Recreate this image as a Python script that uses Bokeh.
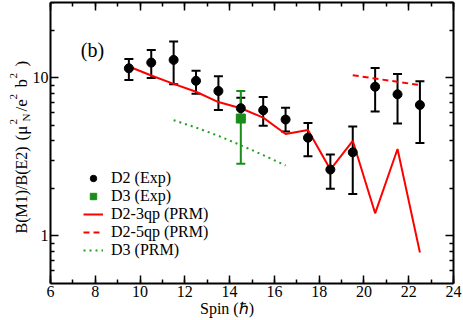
import math
from bokeh.plotting import figure
from bokeh.core.properties import value
from bokeh.models import (ColumnDataSource, Whisker, TeeHead, Legend, LegendItem, Label,
                          SingleIntervalTicker, FixedTicker, LinearAxis, LogAxis, Range1d,
                          BasicTickFormatter, CustomJSTickFormatter)
from bokeh.embed import file_html
from bokeh.resources import INLINE

# ---------------- data ----------------
spin_d2 = [9.5, 10.5, 11.5, 12.5, 13.5, 14.5, 15.5, 16.5, 17.5, 18.5, 19.5, 20.5, 21.5, 22.5]
d2_exp = [11.5, 12.5, 13.0, 9.58, 8.26, 6.43, 6.24, 5.45, 4.18, 2.63, 3.38, 8.79, 7.87, 6.74]
d2_exp_upper = [13.15, 15.0, 17.0, 11.1, 10.25, 7.48, 7.57, 6.48, 5.18, 3.27, 4.92, 11.56, 10.6, 9.53]
d2_exp_lower = [9.7, 10.0, 9.1, 7.94, 6.27, 5.5, 4.98, 4.58, 3.19, 1.99, 1.84, 6.12, 5.14, 3.87]

spin_d3 = [14.5]
d3_exp = [5.53]
d3_exp_upper = [8.26]
d3_exp_lower = [2.86]

spin_3qp = [9.5, 10.5, 11.5, 12.5, 13.5, 14.5, 15.5, 16.5, 17.5, 18.5, 19.5, 20.5, 21.5, 22.5]
d2_3qp_prm = [11.8, 10.35, 9.17, 8.17, 7.03, 6.43, 5.61, 4.42, 4.68, 2.63, 4.0, 1.39, 3.55, 0.785]

spin_5qp = [19.5, 20.5, 21.5, 22.5]
d2_5qp_prm = [10.4, 9.9, 9.45, 9.0]

spin_d3prm = [11.5, 12.5, 13.5, 14.5, 15.5, 16.5]
d3_prm = [5.40, 4.85, 4.3, 3.75, 3.25, 2.79]

y_major_ticks = [1, 10]
y_minor_ticks = [0.6, 0.7, 0.8, 0.9, 2, 3, 4, 5, 6, 7, 8, 9, 20, 30]

FONT = "Liberation Serif"
GREEN = "#1a8c1a"
GREEN_LINE = "#22a022"

# ---------------- geometry ----------------
W, H = 463, 320
B_RIGHT, B_TOP, B_BOTTOM = 10, 2, 37
AXIS_PX = 50                      # where spin = 6 sits (canvas px)
X0, X1 = 6, 24
Y0, Y1 = 0.5, 30
FRAME_R = W - B_RIGHT
XL = X0 - AXIS_PX * (X1 - X0) / (FRAME_R - AXIS_PX)   # frame extends left to hold the y label
FRAME_H = H - B_TOP - B_BOTTOM

p = figure(width=W, height=H, x_range=Range1d(XL, X1), y_range=Range1d(Y0, Y1),
           y_axis_type="log", y_axis_location=None,
           output_backend="svg", toolbar_location=None,
           min_border_left=0, min_border_right=B_RIGHT,
           min_border_top=B_TOP, min_border_bottom=B_BOTTOM,
           background_fill_color="white", border_fill_color="white")
p.outline_line_color = None
p.xgrid.visible = False
p.ygrid.visible = False

xax = p.below[0]
xax.ticker = SingleIntervalTicker(interval=2, num_minor_ticks=2)
xax.bounds = (X0, X1)
xax.axis_label = "Spin (\u210f)"

yax = LogAxis(ticker=FixedTicker(ticks=y_major_ticks, minor_ticks=y_minor_ticks),
              formatter=BasicTickFormatter(), fixed_location=X0)
top_ax = LinearAxis(ticker=SingleIntervalTicker(interval=2, num_minor_ticks=2),
                    formatter=CustomJSTickFormatter(code="return ''"), bounds=(X0, X1))
right_ax = LogAxis(ticker=FixedTicker(ticks=y_major_ticks, minor_ticks=y_minor_ticks),
                   formatter=CustomJSTickFormatter(code="return ''"))
p.add_layout(yax, "left")
p.add_layout(top_ax, "above")
p.add_layout(right_ax, "right")

for ax in [xax, yax, top_ax, right_ax]:
    ax.axis_line_width = 2
    ax.axis_line_color = "black"
    ax.major_tick_in = 8
    ax.major_tick_out = 0
    ax.minor_tick_in = 4
    ax.minor_tick_out = 0
    ax.major_tick_line_width = 1.5
    ax.minor_tick_line_width = 1.5
    ax.major_tick_line_color = "black"
    ax.minor_tick_line_color = "black"
    ax.major_label_text_font = FONT
    ax.major_label_text_font_size = "16px"
    ax.major_label_text_color = "black"
    ax.axis_label_text_font = FONT
    ax.axis_label_text_font_style = "normal"
    ax.axis_label_text_font_size = "16px"
    ax.axis_label_text_color = "black"
for ax in [top_ax, right_ax]:
    ax.major_label_text_font_size = "0px"
xax.major_label_standoff = 2
xax.axis_label_standoff = 0
yax.major_label_standoff = 2

# ---------------- glyphs ----------------
src_d2 = ColumnDataSource(dict(x=spin_d2, y=d2_exp, upper=d2_exp_upper, lower=d2_exp_lower))
src_d3 = ColumnDataSource(dict(x=spin_d3, y=d3_exp, upper=d3_exp_upper, lower=d3_exp_lower))

w_d2 = Whisker(source=src_d2, base="x", upper="upper", lower="lower",
               line_color="black", line_width=2,
               upper_head=TeeHead(size=9, line_color="black", line_width=2),
               lower_head=TeeHead(size=9, line_color="black", line_width=2))
p.add_layout(w_d2)
w_d3 = Whisker(source=src_d3, base="x", upper="upper", lower="lower",
               line_color=GREEN, line_width=2,
               upper_head=TeeHead(size=9, line_color=GREEN, line_width=2),
               lower_head=TeeHead(size=9, line_color=GREEN, line_width=2))
p.add_layout(w_d3)

r_3qp = p.line(spin_3qp, d2_3qp_prm, line_color="red", line_width=2)
r_5qp = p.line(spin_5qp, d2_5qp_prm, line_color="red", line_width=2, line_dash="6 4")
r_d3prm = p.line(spin_d3prm, d3_prm, line_color=GREEN_LINE, line_width=2, line_dash="2 4")
r_d2 = p.scatter("x", "y", source=src_d2, marker="circle", size=9,
                 fill_color="black", line_color="black")
r_d3 = p.scatter("x", "y", source=src_d3, marker="square", size=9,
                 fill_color=GREEN, line_color=GREEN)

legend = Legend(items=[
    LegendItem(label="D2 (Exp)", renderers=[r_d2]),
    LegendItem(label="D3 (Exp)", renderers=[r_d3]),
    LegendItem(label="D2-3qp (PRM)", renderers=[r_3qp]),
    LegendItem(label="D2-5qp (PRM)", renderers=[r_5qp]),
    LegendItem(label="D3 (PRM)", renderers=[r_d3prm]),
], location=(AXIS_PX + 33, 24))
legend.label_text_font = FONT
legend.label_text_font_size = "16px"
legend.label_text_color = "black"
legend.background_fill_alpha = 0
legend.border_line_alpha = 0
legend.glyph_width = 20
legend.glyph_height = 16
legend.label_height = 16
legend.spacing = 0
legend.padding = 0
legend.margin = 0
legend.label_standoff = 8
p.add_layout(legend)

p.add_layout(Label(x=7.35, y=15.1, text="(b)", text_font=FONT, text_font_size="20px",
                   text_color="black", text_baseline="alphabetic", text_align="left"))


# ---------------- rotated y-axis label, built from pieces ----------------
def px_to_data(px, py):
    xd = XL + px / FRAME_R * (X1 - XL)
    ly = math.log10(Y1) - (py - B_TOP) / FRAME_H * (math.log10(Y1) - math.log10(Y0))
    return xd, 10 ** ly


# (text, baseline x px, start y px, size)
label_parts = [
    ("B(M1)/B(E2)", 21, 233, "16px"),
    ("(\u03bc", 21, 140, "17px"),
    ("/e", 21, 111, "17px"),
    ("b", 21, 87, "17px"),
    (")", 21, 66, "17px"),
    ("N", 25, 121, "11px"),
    ("2", 12.5, 124, "11px"),
    ("2", 12.5, 99, "11px"),
    ("2", 12.5, 78, "11px"),
]
for fs in ["16px", "17px", "11px"]:
    xs, ys, ts = [], [], []
    for t, bx, by, size in label_parts:
        if size != fs:
            continue
        xd, yd = px_to_data(bx, by)
        xs.append(xd)
        ys.append(yd)
        ts.append(t)
    p.text(x=xs, y=ys, text=ts, angle=math.pi / 2,
           text_font=value(FONT), text_font_size=value(fs), text_color="black",
           text_baseline="alphabetic", text_align="left")

open("out.html", "w").write(file_html(p, INLINE))
